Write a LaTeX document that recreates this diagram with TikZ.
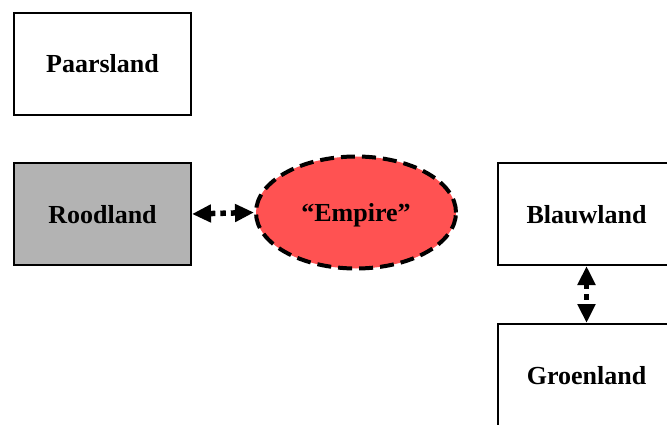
\documentclass[tikz,border=0pt]{standalone}
\usepackage{fontspec}
\setmainfont{Liberation Serif}
\usetikzlibrary{arrows.meta,shapes.geometric}
\definecolor{empirered}{HTML}{FF5252}
\definecolor{roodgrey}{HTML}{B3B3B3}
\tikzset{
  labeltext/.style={font=\fontsize{26}{30}\selectfont\bfseries, text height=20pt, text depth=2pt},
  landbox/.style={draw=black, line width=2pt, minimum width=177pt, minimum height=102pt, inner sep=0pt, labeltext},
  empirenode/.style={ellipse, draw=black, fill=empirered, line width=4pt, dash pattern=on 14pt off 7pt, minimum width=200pt, minimum height=112pt, inner sep=0pt, labeltext},
  dotarrow/.style={line width=5.5pt, dash pattern=on 5.5pt off 5pt, {Triangle[length=19pt,width=17pt]}-{Triangle[length=19pt,width=17pt]}, shorten <=0pt, shorten >=0pt}
}
\begin{document}
\begin{tikzpicture}[x=1pt,y=-1pt]
\useasboundingbox (0,0) rectangle (667,425);
\node[landbox] (paars) at (102.5,64) {Paarsland};
\node[landbox, fill=roodgrey] (rood) at (102.5,214) {Roodland};
\node[empirenode] (empire) at (356,212.5) {“Empire”};
\node[landbox] (blauw) at (586.5,214) {Blauwland};
\node[landbox] (groen) at (586.5,375) {Groenland};
\draw[dotarrow] (rood.east) -- (empire.west);
\draw[dotarrow] (blauw.south) -- (groen.north);
\end{tikzpicture}
\end{document}
